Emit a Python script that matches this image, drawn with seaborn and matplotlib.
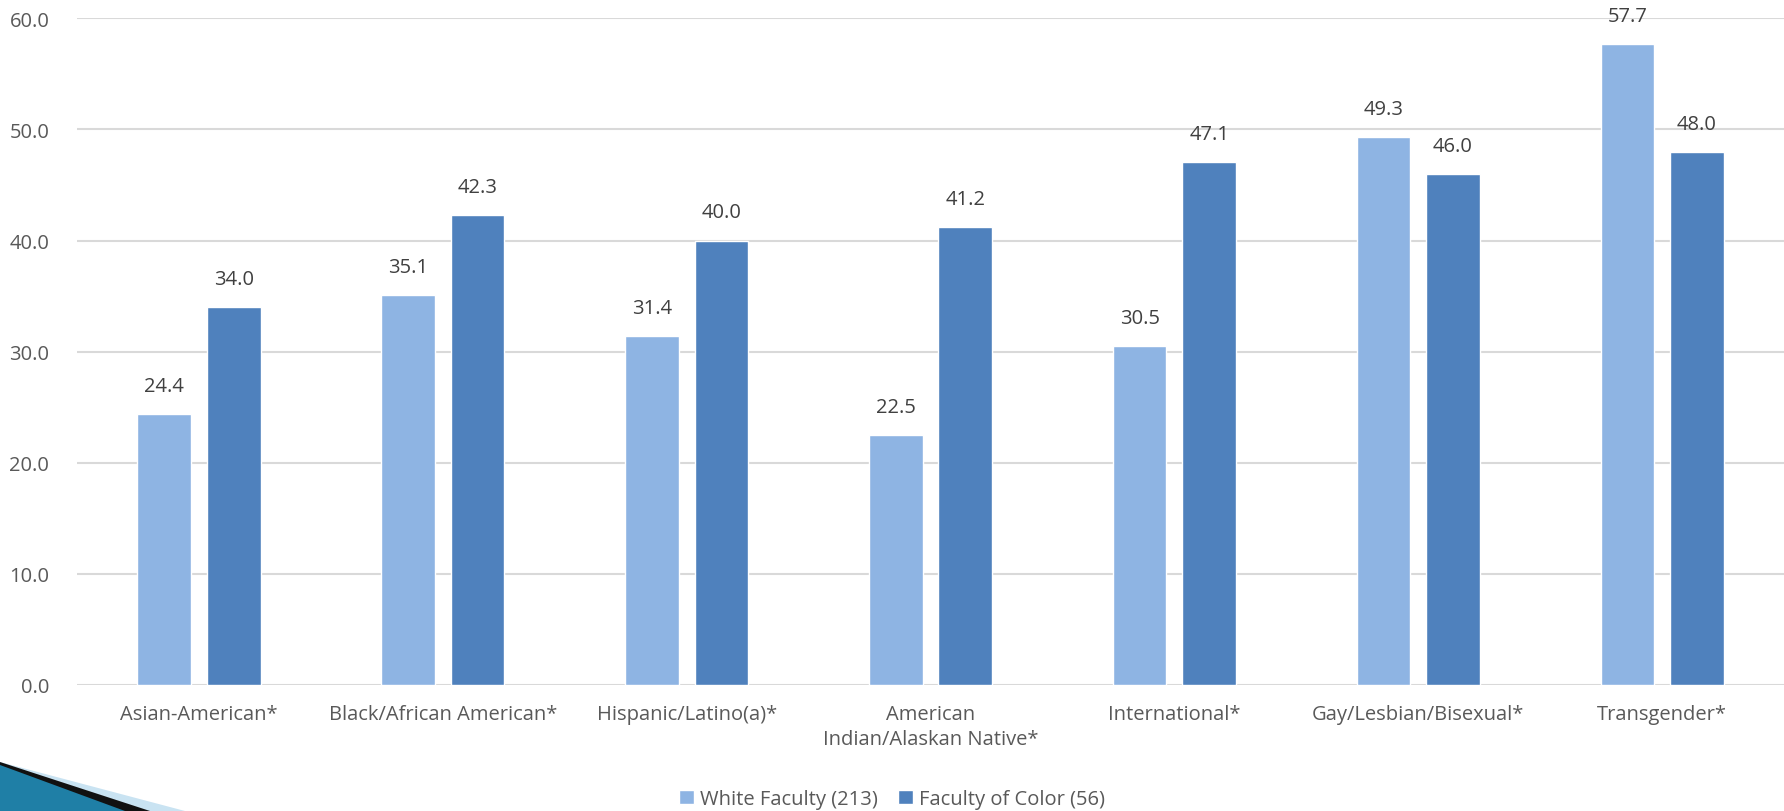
import numpy as np
import pandas as pd
import matplotlib
matplotlib.use("Agg")
import matplotlib.pyplot as plt
import seaborn as sns
from matplotlib.patches import Polygon

categories = ["Asian-American*", "Black/African American*", "Hispanic/Latino(a)*",
              "American\nIndian/Alaskan Native*", "International*",
              "Gay/Lesbian/Bisexual*", "Transgender*"]
white_faculty = [24.4, 35.1, 31.4, 22.5, 30.5, 49.3, 57.7]
faculty_color = [34.0, 42.3, 40.0, 41.2, 47.1, 46.0, 48.0]
series_names = ["White Faculty (213)", "Faculty of Color (56)"]
yticks = [0, 10, 20, 30, 40, 50, 60]

sns.set_theme(style="white")
plt.rcParams["font.family"] = ["Open Sans", "DejaVu Sans"]
TXT = "#595959"

df = pd.DataFrame({
    "cat": categories * 2,
    "val": white_faculty + faculty_color,
    "series": [series_names[0]] * 7 + [series_names[1]] * 7,
})

fig = plt.figure(figsize=(17.84, 8.12), dpi=100)
ax = fig.add_axes([0.0432, 0.1552, 0.9568, 0.8210])

for y in yticks:
    ax.axhline(y, color="#D9D9D9", lw=1.5, zorder=0)

sns.barplot(data=df, x="cat", y="val", hue="series", order=categories,
            hue_order=series_names, palette=["#8EB4E3", "#4F81BD"],
            width=0.57, gap=0.228, saturation=1, errorbar=None, ax=ax, zorder=2)

for cont in ax.containers:
    ax.bar_label(cont, fmt="%.1f", padding=13, fontsize=14.5, color="#404040")

ax.set_ylim(0, 60)
ax.set_xlim(-0.5, 6.5)
ax.set_yticks(yticks)
ax.set_yticklabels([f"{v:.1f}" for v in yticks], fontsize=14.5, color=TXT)
ax.tick_params(axis="y", length=0, pad=20)
ax.tick_params(axis="x", length=0, pad=14, labelsize=14.5, labelcolor=TXT)
for lbl in ax.get_xticklabels():
    lbl.set_linespacing(1.3)
ax.set_xlabel("")
ax.set_ylabel("")
for s in ax.spines.values():
    s.set_visible(False)

ax.legend(loc="center", bbox_to_anchor=(0.5, 12 / 812), bbox_transform=fig.transFigure,
          ncol=2, frameon=False, borderpad=0,
          fontsize=14.5, labelcolor=TXT, handlelength=0.75, handleheight=0.75,
          handletextpad=0.3, columnspacing=1.0)

# slide decoration in the lower-left corner
fig.patches.append(Polygon([[0, 1 - 763 / 812], [0, 0], [185 / 1784, 0]],
                           closed=True, transform=fig.transFigure,
                           facecolor="#C9E3F2", edgecolor="none", zorder=0))
fig.patches.append(Polygon([[0, 1 - 763 / 812], [0, 0], [150 / 1784, 0]],
                           closed=True, transform=fig.transFigure,
                           facecolor="#111111", edgecolor="none", zorder=1))
fig.patches.append(Polygon([[0, 1 - 766 / 812], [0, 0], [125 / 1784, 0]],
                           closed=True, transform=fig.transFigure,
                           facecolor="#1F7FA6", edgecolor="none", zorder=2))

fig.savefig("out.png", dpi=100)
